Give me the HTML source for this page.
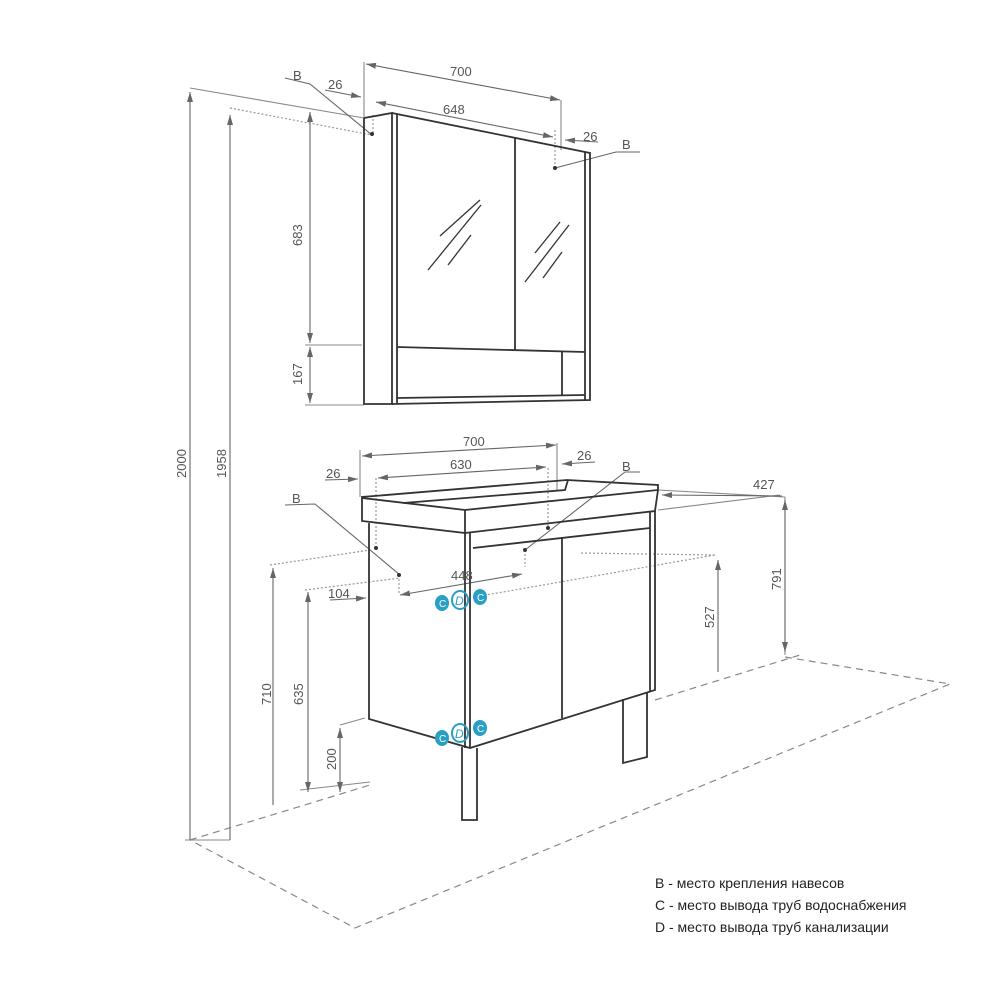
<!DOCTYPE html>
<html><head><meta charset="utf-8"><style>
html,body{margin:0;padding:0;background:#fff}
svg{display:block}
text{font-family:"Liberation Sans",sans-serif;fill:#555}
</style></head><body>
<svg width="1000" height="1000" viewBox="0 0 1000 1000" xmlns="http://www.w3.org/2000/svg">
<defs>
<marker id="a" markerWidth="10" markerHeight="6" refX="10" refY="3" orient="auto-start-reverse" markerUnits="userSpaceOnUse"><path d="M0,0 L10,3 L0,6z" fill="#666"/></marker>
</defs>
<g stroke="#888" stroke-width="1.2" stroke-dasharray="7,5" fill="none">
<path d="M190,840 L370,785"/>
<path d="M785,657 L950,684 L355,928 L190,840"/>
<path d="M655,700 L800,655"/>
</g>
<g stroke="#999" stroke-width="1.2" stroke-dasharray="2,2" fill="none">
<path d="M230,108 L372,135"/><path d="M373,115 L373,135"/><path d="M555,130 L555,168"/>
<path d="M270,565 L370,550"/><path d="M715,555 L580,553"/><path d="M305,590 L400,578"/><path d="M480,596 L715,555"/>
<path d="M376,478 L376,548"/><path d="M548,468 L548,528"/><path d="M399,575 L399,595"/><path d="M525,550 L525,567"/>
</g>
<g stroke="#888" stroke-width="1.1" fill="none">
<path d="M190,88 L364,118"/><path d="M185,840 L230,840"/>
<path d="M364,62 L364,118"/><path d="M561,100 L561,150"/>
<path d="M305,345 L362,345"/><path d="M305,405 L364,405"/>
<path d="M360,450 L360,497"/><path d="M557,443 L557,490"/>
<path d="M658,490 L785,497"/><path d="M658,510 L780,495"/>
<path d="M340,725 L365,718"/><path d="M300,790 L370,782"/>
<path d="M785,497 L785,655"/>
</g>
<g stroke="#666" stroke-width="1.1" fill="none">
<path d="M190,92 L190,840" marker-start="url(#a)"/>
<path d="M230,115 L230,840" marker-start="url(#a)"/>
<path d="M310,112 L310,343" marker-start="url(#a)" marker-end="url(#a)"/>
<path d="M310,347 L310,403" marker-start="url(#a)" marker-end="url(#a)"/>
<path d="M273,568 L273,805" marker-start="url(#a)"/>
<path d="M308,592 L308,792" marker-start="url(#a)" marker-end="url(#a)"/>
<path d="M340,728 L340,792" marker-start="url(#a)" marker-end="url(#a)"/>
<path d="M718,560 L718,672" marker-start="url(#a)"/>
<path d="M785,500 L785,652" marker-start="url(#a)" marker-end="url(#a)"/>
<path d="M366,64 L560,100" marker-start="url(#a)" marker-end="url(#a)"/>
<path d="M376,102 L553,137" marker-start="url(#a)" marker-end="url(#a)"/>
<path d="M325,90 L361,97" marker-end="url(#a)"/><path d="M598,142 L565,140" marker-end="url(#a)"/>
<path d="M362,456 L556,445" marker-start="url(#a)" marker-end="url(#a)"/>
<path d="M378,478 L546,467" marker-start="url(#a)" marker-end="url(#a)"/>
<path d="M325,480 L358,479" marker-end="url(#a)"/><path d="M595,462 L562,464" marker-end="url(#a)"/>
<path d="M400,595 L522,574" marker-start="url(#a)" marker-end="url(#a)"/>
<path d="M330,600 L366,598" marker-end="url(#a)"/>
<path d="M662,495 L782,496" marker-start="url(#a)"/>
</g>
<g stroke="#666" stroke-width="1.1" fill="none">
<path d="M285,78 L310,84 L372,135"/><path d="M640,152 L616,152 L555,168"/>
<path d="M285,505 L315,504 L400,575"/><path d="M640,472 L625,472 L525,550"/>
</g>
<g fill="#333"><circle cx="372" cy="134" r="2"/><circle cx="555" cy="168" r="2"/><circle cx="376" cy="548" r="2"/><circle cx="399" cy="575" r="2"/><circle cx="548" cy="528" r="2"/><circle cx="525" cy="550" r="2"/></g>
<g stroke="#333" stroke-width="1.8" fill="none">
<path d="M364,118 L364,404 L392,404 L392,113 L364,118"/>
<path d="M392,113 L590,153 L590,400 L392,404"/>
<path d="M397,114 L397,403"/><path d="M585,152 L585,400"/>
<path d="M515,138 L515,350"/>
<path d="M397,347 L585,352"/><path d="M397,398 L585,395"/><path d="M562,352 L562,395"/>
</g>
<g stroke="#333" stroke-width="1.3">
<path d="M440,236 L480,200"/><path d="M428,270 L481,205"/><path d="M448,265 L471,235"/>
<path d="M535,253 L560,222"/><path d="M525,282 L569,225"/><path d="M543,278 L562,252"/>
</g>
<g stroke="#333" stroke-width="1.8" fill="none">
<path d="M362,498 L465,510 L658,490 L658,485 L567,480 L362,497 Z"/>
<path d="M362,498 L362,521 L465,533 L465,510"/>
<path d="M465,533 L655,511 L658,490"/>
<path d="M403,503 L565,490 L568,480"/>
<path d="M369,523 L369,719 L470,748 L655,690 L655,511"/>
<path d="M465,533 L465,748"/><path d="M470,533 L470,748"/>
<path d="M650,512 L650,692"/>
<path d="M473,548 L650,528"/><path d="M562,537 L562,718"/>
<path d="M462,747 L462,820 L477,820 L477,748"/>
<path d="M623,699 L623,763 L647,757 L647,692"/>
</g>
<g stroke="#2a9fc4" stroke-width="2" fill="none">
<ellipse cx="442" cy="603" rx="6" ry="7" fill="#2a9fc4"/><ellipse cx="460" cy="600" rx="8" ry="9"/><ellipse cx="480" cy="597" rx="6" ry="7" fill="#2a9fc4"/>
<ellipse cx="442" cy="738" rx="6" ry="7" fill="#2a9fc4"/><ellipse cx="460" cy="733" rx="8" ry="9"/><ellipse cx="480" cy="728" rx="6" ry="7" fill="#2a9fc4"/>
</g>
<g font-size="10"><text x="439" y="607" style="fill:#fff">C</text><text x="477" y="601" style="fill:#fff">C</text><text x="439" y="742" style="fill:#fff">C</text><text x="477" y="732" style="fill:#fff">C</text></g>
<g font-size="12" font-style="italic"><text x="455" y="605" style="fill:#2a9fc4">D</text><text x="455" y="738" style="fill:#2a9fc4">D</text></g>
<g font-size="13">
<text x="450" y="76">700</text><text x="443" y="114">648</text>
<text x="328" y="89">26</text><text x="583" y="141">26</text>
<text x="293" y="80">B</text><text x="622" y="149">B</text>
<text x="463" y="446">700</text><text x="450" y="469">630</text>
<text x="326" y="478">26</text><text x="577" y="460">26</text>
<text x="622" y="471">B</text><text x="292" y="503">B</text>
<text x="753" y="489">427</text><text x="451" y="580">448</text><text x="328" y="598">104</text>
</g>
<g font-size="13">
<text transform="translate(186,478) rotate(-90)">2000</text>
<text transform="translate(226,478) rotate(-90)">1958</text>
<text transform="translate(302,246) rotate(-90)">683</text>
<text transform="translate(302,385) rotate(-90)">167</text>
<text transform="translate(271,705) rotate(-90)">710</text>
<text transform="translate(303,705) rotate(-90)">635</text>
<text transform="translate(336,770) rotate(-90)">200</text>
<text transform="translate(714,628) rotate(-90)">527</text>
<text transform="translate(781,590) rotate(-90)">791</text>
</g>
<g font-size="14">
<text x="655" y="888" style="fill:#222">B - место крепления навесов</text>
<text x="655" y="910" style="fill:#222">C - место вывода труб водоснабжения</text>
<text x="655" y="932" style="fill:#222">D - место вывода труб канализации</text>
</g>
</svg>
</body></html>
